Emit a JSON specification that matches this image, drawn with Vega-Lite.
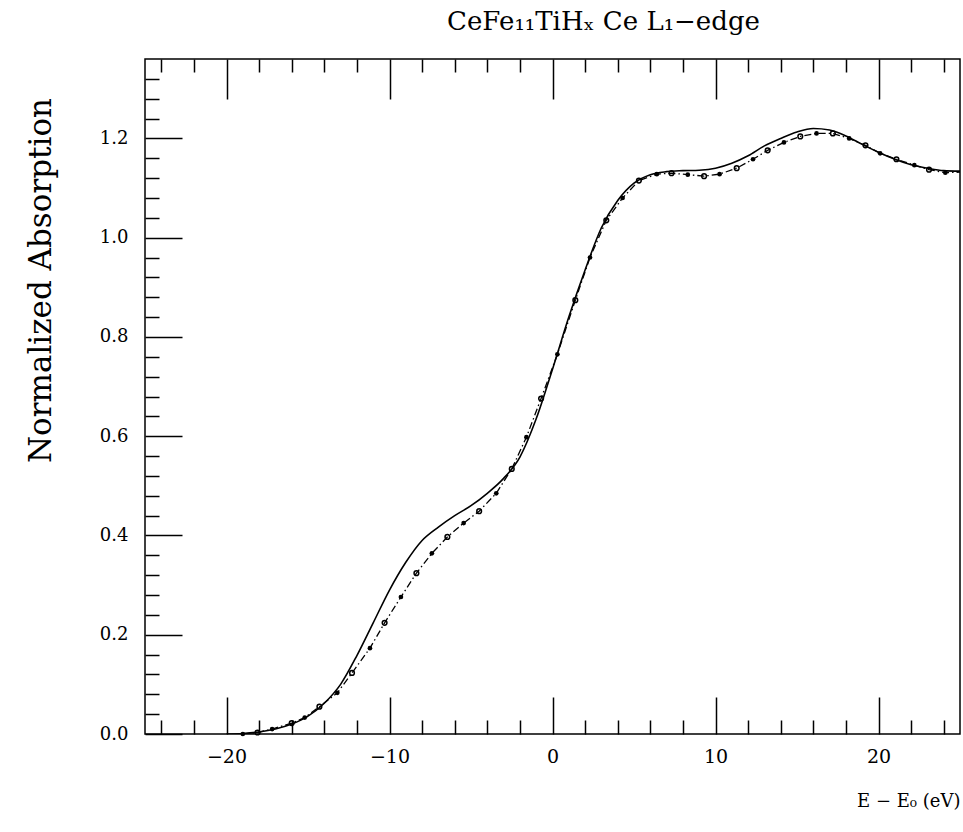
{
  "$schema": "https://vega.github.io/schema/vega-lite/v6.json",
  "width": 815,
  "height": 675,
  "autosize": {"type": "none"},
  "padding": {"left": 145, "top": 59, "right": 3, "bottom": 98},
  "background": "white",
  "title": {
    "text": "CeFe₁₁TiHₓ Ce L₁−edge",
    "font": "DejaVu Serif",
    "fontSize": 26,
    "fontWeight": "normal",
    "anchor": "middle",
    "baseline": "alphabetic",
    "offset": 2,
    "dx": 51,
    "color": "black"
  },
  "config": {
    "view": {"stroke": "black", "strokeWidth": 1.5},
    "axis": {
      "domain": false,
      "grid": false,
      "tickColor": "black",
      "tickWidth": 1.5,
      "labelFont": "DejaVu Serif",
      "labelFontSize": 18,
      "labelColor": "black",
      "titleFont": "DejaVu Serif",
      "titleFontWeight": "normal",
      "titleColor": "black"
    }
  },
  "datasets": {
    "solid": [
      {"e": -20, "a": 0.0},
      {"e": -19, "a": 0.001},
      {"e": -18, "a": 0.004},
      {"e": -17, "a": 0.01},
      {"e": -16, "a": 0.02},
      {"e": -15, "a": 0.036},
      {"e": -14, "a": 0.062},
      {"e": -13, "a": 0.1},
      {"e": -12, "a": 0.158},
      {"e": -11, "a": 0.224},
      {"e": -10, "a": 0.29},
      {"e": -9, "a": 0.346},
      {"e": -8, "a": 0.39},
      {"e": -7, "a": 0.417},
      {"e": -6, "a": 0.44},
      {"e": -5, "a": 0.46},
      {"e": -4, "a": 0.485},
      {"e": -3, "a": 0.515},
      {"e": -2, "a": 0.558},
      {"e": -1, "a": 0.635},
      {"e": 0, "a": 0.735},
      {"e": 1, "a": 0.84},
      {"e": 2, "a": 0.935},
      {"e": 3, "a": 1.02},
      {"e": 4, "a": 1.075},
      {"e": 5, "a": 1.11},
      {"e": 6, "a": 1.127},
      {"e": 7, "a": 1.133},
      {"e": 8, "a": 1.135},
      {"e": 9, "a": 1.136},
      {"e": 10, "a": 1.14},
      {"e": 11, "a": 1.15},
      {"e": 12, "a": 1.165},
      {"e": 13, "a": 1.185},
      {"e": 14, "a": 1.2},
      {"e": 15, "a": 1.213},
      {"e": 16, "a": 1.22},
      {"e": 17, "a": 1.217},
      {"e": 18, "a": 1.205},
      {"e": 19, "a": 1.188},
      {"e": 20, "a": 1.172},
      {"e": 21, "a": 1.158},
      {"e": 22, "a": 1.147},
      {"e": 23, "a": 1.14},
      {"e": 24, "a": 1.135},
      {"e": 25, "a": 1.134}
    ],
    "exp": [
      {"e": -19.0, "a": 0.0, "kind": "filled"},
      {"e": -18.1, "a": 0.003, "kind": "open"},
      {"e": -17.2, "a": 0.01, "kind": "filled"},
      {"e": -16.0, "a": 0.022, "kind": "open"},
      {"e": -15.2, "a": 0.033, "kind": "filled"},
      {"e": -14.3, "a": 0.055, "kind": "open"},
      {"e": -13.2, "a": 0.083, "kind": "filled"},
      {"e": -12.3, "a": 0.123, "kind": "open"},
      {"e": -11.2, "a": 0.173, "kind": "filled"},
      {"e": -10.3, "a": 0.224, "kind": "open"},
      {"e": -9.3, "a": 0.276, "kind": "filled"},
      {"e": -8.35, "a": 0.324, "kind": "open"},
      {"e": -7.4, "a": 0.364, "kind": "filled"},
      {"e": -6.45, "a": 0.397, "kind": "open"},
      {"e": -5.45, "a": 0.425, "kind": "filled"},
      {"e": -4.5, "a": 0.449, "kind": "open"},
      {"e": -3.45, "a": 0.485, "kind": "filled"},
      {"e": -2.5, "a": 0.534, "kind": "open"},
      {"e": -1.6, "a": 0.598, "kind": "filled"},
      {"e": -0.7, "a": 0.676, "kind": "open"},
      {"e": 0.3, "a": 0.765, "kind": "filled"},
      {"e": 1.4, "a": 0.874, "kind": "open"},
      {"e": 2.3, "a": 0.96, "kind": "filled"},
      {"e": 3.3, "a": 1.035, "kind": "open"},
      {"e": 4.3, "a": 1.08, "kind": "filled"},
      {"e": 5.3, "a": 1.115, "kind": "open"},
      {"e": 6.4, "a": 1.128, "kind": "filled"},
      {"e": 7.3, "a": 1.13, "kind": "open"},
      {"e": 8.3, "a": 1.127, "kind": "filled"},
      {"e": 9.3, "a": 1.124, "kind": "open"},
      {"e": 10.25, "a": 1.128, "kind": "filled"},
      {"e": 11.3, "a": 1.14, "kind": "open"},
      {"e": 12.3, "a": 1.158, "kind": "filled"},
      {"e": 13.2, "a": 1.176, "kind": "open"},
      {"e": 14.2, "a": 1.192, "kind": "filled"},
      {"e": 15.2, "a": 1.204, "kind": "open"},
      {"e": 16.2, "a": 1.21, "kind": "filled"},
      {"e": 17.2, "a": 1.21, "kind": "open"},
      {"e": 18.2, "a": 1.2, "kind": "filled"},
      {"e": 19.2, "a": 1.186, "kind": "open"},
      {"e": 20.1, "a": 1.17, "kind": "filled"},
      {"e": 21.1, "a": 1.158, "kind": "open"},
      {"e": 22.2, "a": 1.146, "kind": "filled"},
      {"e": 23.1, "a": 1.137, "kind": "open"},
      {"e": 24.1, "a": 1.131, "kind": "filled"},
      {"e": 25.0, "a": 1.132, "kind": "end"}
    ]
  },
  "resolve": {"axis": {"x": "independent", "y": "independent"}},
  "layer": [
    {
      "data": {"name": "solid"},
      "mark": {"type": "line", "color": "black", "strokeWidth": 1.6, "interpolate": "monotone", "clip": true},
      "encoding": {
        "x": {
          "field": "e", "type": "quantitative",
          "scale": {"domain": [-25, 25], "nice": false, "zero": false},
          "axis": {
            "orient": "bottom",
            "values": [-20, -10, 0, 10, 20],
            "tickSize": -37,
            "labelPadding": 50,
            "labelFontSize": 19,
            "title": "E − E₀ (eV)",
            "titleFontSize": 18,
            "titleAnchor": "end",
            "titleAlign": "right",
            "titleBaseline": "alphabetic",
            "titleX": 815,
            "titleY": 72
          }
        },
        "y": {
          "field": "a", "type": "quantitative",
          "scale": {"domain": [0, 1.36], "nice": false, "zero": false},
          "axis": {
            "orient": "left",
            "values": [0, 0.2, 0.4, 0.6, 0.8, 1.0, 1.2],
            "format": ".1f",
            "tickSize": -37,
            "labelPadding": 54,
            "title": "Normalized Absorption",
            "titleFontSize": 31,
            "titleAngle": -90,
            "titleAlign": "center",
            "titleBaseline": "middle",
            "titleX": -104,
            "titleY": 221
          }
        }
      }
    },
    {
      "data": {"name": "exp"},
      "mark": {"type": "line", "color": "black", "strokeWidth": 1.3, "strokeDash": [7, 3, 1.5, 3], "clip": true},
      "encoding": {
        "x": {
          "field": "e", "type": "quantitative",
          "axis": {
            "orient": "bottom",
            "values": [-24, -22, -18, -16, -14, -12, -8, -6, -4, -2, 2, 4, 6, 8, 12, 14, 16, 18, 22, 24],
            "tickSize": -14,
            "labels": false,
            "title": null
          }
        },
        "y": {
          "field": "a", "type": "quantitative",
          "axis": {
            "orient": "left",
            "values": [0.04, 0.08, 0.12, 0.16, 0.24, 0.28, 0.32, 0.36, 0.44, 0.48, 0.52, 0.56, 0.64, 0.68, 0.72, 0.76, 0.84, 0.88, 0.92, 0.96, 1.04, 1.08, 1.12, 1.16, 1.24, 1.28, 1.32],
            "tickSize": -14,
            "labels": false,
            "title": null
          }
        }
      }
    },
    {
      "data": {"name": "exp"},
      "transform": [{"filter": "datum.kind === 'filled'"}],
      "mark": {"type": "point", "shape": "circle", "filled": true, "color": "black", "size": 22, "opacity": 1},
      "encoding": {
        "x": {
          "field": "e", "type": "quantitative",
          "axis": {
            "orient": "top",
            "values": [-20, -10, 0, 10, 20],
            "tickSize": -40,
            "labels": false,
            "title": null
          }
        },
        "y": {"field": "a", "type": "quantitative", "axis": null}
      }
    },
    {
      "data": {"name": "exp"},
      "transform": [{"filter": "datum.kind === 'open'"}],
      "mark": {"type": "point", "shape": "circle", "filled": false, "color": "black", "size": 22, "strokeWidth": 1.5, "opacity": 1},
      "encoding": {
        "x": {
          "field": "e", "type": "quantitative",
          "axis": {
            "orient": "top",
            "values": [-24, -22, -18, -16, -14, -12, -8, -6, -4, -2, 2, 4, 6, 8, 12, 14, 16, 18, 22, 24],
            "tickSize": -13,
            "labels": false,
            "title": null
          }
        },
        "y": {"field": "a", "type": "quantitative", "axis": null}
      }
    }
  ]
}
